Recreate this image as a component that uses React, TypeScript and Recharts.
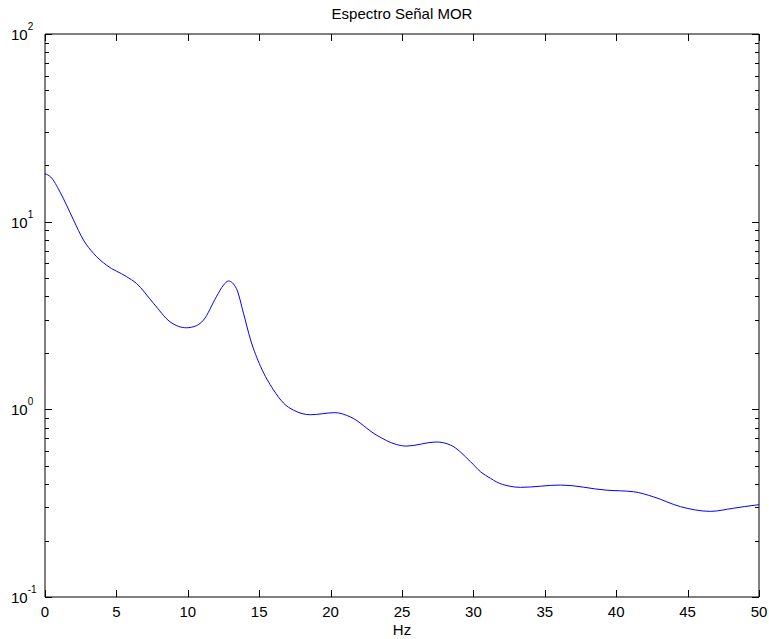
import React from "react";
import { LineChart, Line, XAxis, YAxis } from "recharts";

// Frequency (Hz) and spectral magnitude of the MOR signal
const freqHz = [
  0, 0.4, 1.05, 1.5, 2.0, 2.7, 3.4, 4.3, 5.7, 6.4, 7.6, 8.75, 9.9, 10.6, 11.1,
  12.0, 12.5, 12.85, 13.4, 13.9, 14.4, 15.1, 16.0, 16.7, 17.4, 18.6, 20.3, 21.4,
  23.2, 24.6, 25.3, 27.4, 28.4, 29.8, 30.5, 31.2, 31.6, 32.5, 33.3, 36.1, 39.3,
  41.2, 42.6, 44.5, 46.6, 48.2, 49.8, 50,
];
const magnitude = [
  18.0, 17.3, 14.4, 12.3, 10.2, 7.97, 6.77, 5.87, 5.1, 4.69, 3.67, 2.93, 2.72,
  2.79, 2.99, 3.98, 4.59, 4.83, 4.41, 3.25, 2.34, 1.69, 1.27, 1.08, 0.99, 0.936,
  0.96, 0.91, 0.73, 0.65, 0.637, 0.67, 0.645, 0.526, 0.465, 0.429, 0.411, 0.39,
  0.384, 0.395, 0.371, 0.364, 0.342, 0.303, 0.286, 0.297, 0.309, 0.31,
];

const xTicks = [0, 5, 10, 15, 20, 25, 30, 35, 40, 45, 50];
const yTicks = [
  0.1, 0.2, 0.3, 0.4, 0.5, 0.6, 0.7, 0.8, 0.9,
  1, 2, 3, 4, 5, 6, 7, 8, 9,
  10, 20, 30, 40, 50, 60, 70, 80, 90,
  100,
];

const spectrum = freqHz.map((hz, i) => ({ hz, amp: magnitude[i] }));

const FONT = '"Liberation Sans", Arial, Helvetica, sans-serif';
const FONT_SIZE = 15;
const MAJOR = 7;
const MINOR = 4;

const decade = (v: number) => {
  const e = Math.round(Math.log10(v));
  return { e, major: Math.abs(Math.log10(v) - e) < 1e-9 };
};

// snap to pixel centres so 1px tick marks stay sharp
const px = (v: number) => Math.round(v) + 0.5;

const BottomTick = (props: any) => {
  const { x, y, payload } = props;
  return (
    <g>
      <line
        x1={px(x)}
        x2={px(x)}
        y1={y}
        y2={y - MAJOR}
        stroke="#000"
        strokeWidth={1}
        shapeRendering="crispEdges"
      />
      <text
        x={x}
        y={y + 20}
        textAnchor="middle"
        fontSize={FONT_SIZE}
        fontFamily={FONT}
        fill="#000"
      >
        {payload.value}
      </text>
    </g>
  );
};

const TopTick = (props: any) => {
  const { x, y } = props;
  return (
    <line
      x1={px(x)}
      x2={px(x)}
      y1={y}
      y2={y + MAJOR}
      stroke="#000"
      strokeWidth={1}
      shapeRendering="crispEdges"
    />
  );
};

const LeftTick = (props: any) => {
  const { x, y, payload } = props;
  const { e, major } = decade(payload.value);
  return (
    <g>
      <line
        x1={x}
        x2={x + (major ? MAJOR : MINOR)}
        y1={px(y)}
        y2={px(y)}
        stroke="#000"
        strokeWidth={1}
        shapeRendering="crispEdges"
      />
      {major && (
        <text x={x - 34} y={y + 6} fontSize={FONT_SIZE} fontFamily={FONT} fill="#000">
          10
          <tspan dy={-10} fontSize={10}>
            {e < 0 ? `-${-e}` : `${e}`}
          </tspan>
        </text>
      )}
    </g>
  );
};

const RightTick = (props: any) => {
  const { x, y, payload } = props;
  const { major } = decade(payload.value);
  return (
    <line
      x1={x}
      x2={x - (major ? MAJOR : MINOR)}
      y1={px(y)}
      y2={px(y)}
      stroke="#000"
      strokeWidth={1}
      shapeRendering="crispEdges"
    />
  );
};

const axisLine = { stroke: "#000", strokeWidth: 1 };

export default function App() {
  return (
    <div
      style={{
        position: "absolute",
        left: 0,
        top: 0,
        width: 769,
        height: 639,
        background: "#fff",
        fontFamily: FONT,
      }}
    >
      <div
        style={{
          position: "absolute",
          left: 45,
          top: 6,
          width: 714,
          textAlign: "center",
          fontSize: FONT_SIZE,
          lineHeight: "15px",
          color: "#000",
        }}
      >
        Espectro Señal MOR
      </div>
      <LineChart
        width={769}
        height={639}
        data={spectrum}
        margin={{ top: 0, right: 0, bottom: 0, left: 0 }}
      >
        <XAxis
          xAxisId="bottom"
          dataKey="hz"
          type="number"
          domain={[0, 50]}
          ticks={xTicks}
          interval={0}
          orientation="bottom"
          height={42}
          tickSize={0}
          tickMargin={0}
          tickLine={false}
          axisLine={axisLine}
          tick={BottomTick}
          label={{
            value: "Hz",
            position: "insideBottom",
            offset: 4,
            fill: "#000",
            fontSize: FONT_SIZE,
            fontFamily: FONT,
          }}
        />
        <XAxis
          xAxisId="top"
          dataKey="hz"
          type="number"
          domain={[0, 50]}
          ticks={xTicks}
          interval={0}
          orientation="top"
          height={34}
          tickSize={0}
          tickMargin={0}
          tickLine={false}
          axisLine={axisLine}
          tick={TopTick}
        />
        <YAxis
          yAxisId="left"
          type="number"
          scale="log"
          domain={[0.1, 100]}
          allowDataOverflow
          ticks={yTicks}
          interval={0}
          width={45}
          tickSize={0}
          tickMargin={0}
          tickLine={false}
          axisLine={axisLine}
          tick={LeftTick}
        />
        <YAxis
          yAxisId="right"
          orientation="right"
          type="number"
          scale="log"
          domain={[0.1, 100]}
          allowDataOverflow
          ticks={yTicks}
          interval={0}
          width={10}
          tickSize={0}
          tickMargin={0}
          tickLine={false}
          axisLine={axisLine}
          tick={RightTick}
        />
        <Line
          xAxisId="bottom"
          yAxisId="left"
          dataKey="amp"
          type="monotone"
          stroke="#0000ff"
          strokeWidth={1}
          dot={false}
          isAnimationActive={false}
        />
      </LineChart>
    </div>
  );
}
